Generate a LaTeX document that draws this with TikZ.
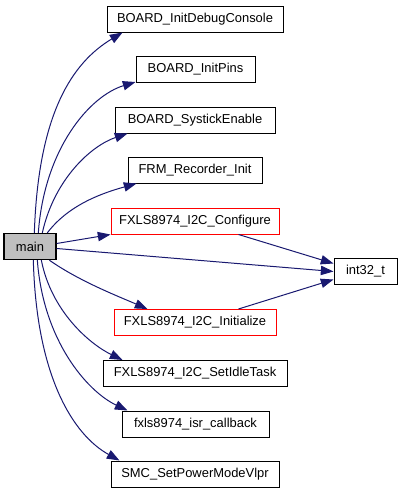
\documentclass[tikz,border=0pt]{standalone}
\usepackage{fontspec}
\setmainfont{Liberation Sans}
\usepackage{tikz}
\usetikzlibrary{arrows.meta, calc}
\usepackage{xcolor}
\definecolor{edgeblue}{RGB}{25, 25, 112}
\definecolor{mainfill}{RGB}{191, 191, 191}
\definecolor{linkred}{RGB}{255, 0, 0}

\begin{document}
\begin{tikzpicture}[x=0.75pt, y=-0.75pt,
  fn/.style={draw=black, rectangle, fill=white, line width=0.75pt, minimum height=19.5pt, inner sep=0pt, font=\fontsize{9.7}{11}\selectfont},
  call/.style={draw=edgeblue, line width=0.75pt, -{Triangle[length=9.5pt, width=7pt]}}]
\useasboundingbox (0,0) rectangle (401,493);
\node[fn, fill=mainfill, line width=1pt, minimum width=39pt] (main) at (30,246.5) {main};
\node[fn, minimum width=132pt] (debug) at (195,19) {BOARD\_InitDebugConsole};
\node[fn, minimum width=89.25pt] (pins) at (195.5,69.5) {BOARD\_InitPins};
\node[fn, minimum width=120pt] (systick) at (195,120) {BOARD\_SystickEnable};
\node[fn, minimum width=100.5pt] (frm) at (195,170) {FRM\_Recorder\_Init};
\node[fn, draw=linkred, minimum width=126pt] (configure) at (195,221) {FXLS8974\_I2C\_Configure};
\node[fn, minimum width=47.25pt] (int32) at (365.5,271.5) {int32\_t};
\node[fn, draw=linkred, minimum width=121.5pt] (initialize) at (195,322.5) {FXLS8974\_I2C\_Initialize};
\node[fn, minimum width=138pt] (setidle) at (195,373.5) {FXLS8974\_I2C\_SetIdleTask};
\node[fn, minimum width=110.25pt] (isr) at (195.5,424) {fxls8974\_isr\_callback};
\node[fn, minimum width=126pt] (smc) at (195,474) {SMC\_SetPowerModeVlpr};
% calls going up
\draw[call] ($(main.north west)+(31,0)$) .. controls +(4,-120) and +(-50,30) .. ($(debug.south west)+(16,0)$);
\draw[call] ($(main.north west)+(35,0)$) .. controls +(6,-84) and +(-46,14) .. ($(pins.south west)+(0,-1)$);
\draw[call] ($(main.north west)+(39,0)$) .. controls +(12,-54) and +(-36,12) .. ($(systick.south west)+(13,0)$);
\draw[call] ($(main.north west)+(44,0)$) .. controls +(22,-29) and +(-32,9) .. ($(frm.south west)+(9,0)$);
% calls to the right
\draw[call] ($(main.east)+(0,-3)$) -- (configure.south west);
\draw[call] ($(main.east)+(0,2)$) -- (int32.west);
\draw[call] ($(configure.south east)+(-41,0)$) -- ($(int32.west)+(0,-8)$);
\draw[call] ($(initialize.north east)+(-38,0)$) -- ($(int32.west)+(0,8)$);
% calls going down
\draw[call] ($(main.south west)+(46,0)$) .. controls +(30,21) and +(-30,-13) .. ($(initialize.north west)+(34,0)$);
\draw[call] ($(main.south west)+(38,0)$) .. controls +(10,51) and +(-33,-16) .. ($(setidle.north west)+(20,0)$);
\draw[call] ($(main.south west)+(34,0)$) .. controls +(6,81) and +(-40,-19) .. ($(isr.north west)+(6,0)$);
\draw[call] ($(main.south west)+(30,0)$) .. controls +(3,115) and +(-47,-26) .. ($(smc.north west)+(9,0)$);
\end{tikzpicture}
\end{document}
